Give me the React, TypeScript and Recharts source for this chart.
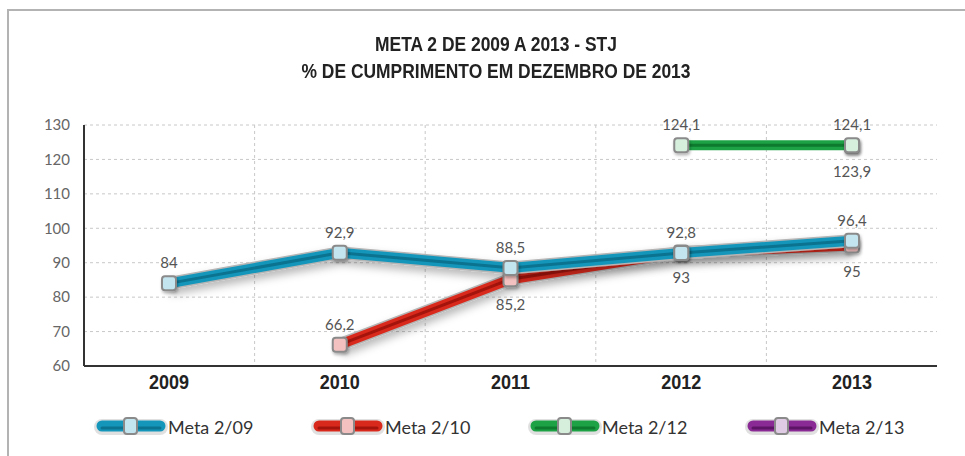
import React from 'react';
import { LineChart, Line, XAxis, YAxis, CartesianGrid, LabelList } from 'recharts';

const years = ['2009', '2010', '2011', '2012', '2013'];
const meta209: (number | null)[] = [84, 92.9, 88.5, 92.8, 96.4];
const meta210: (number | null)[] = [null, 66.2, 85.2, 93, 95];
const meta212: (number | null)[] = [null, null, null, 124.1, 124.1];
const meta213: (number | null)[] = [null, null, null, null, 123.9];
const yTicks = [60, 70, 80, 90, 100, 110, 120, 130];
const seriesNames = ['Meta 2/09', 'Meta 2/10', 'Meta 2/12', 'Meta 2/13'];
const titleLines = ['META 2 DE 2009 A 2013 - STJ', '% DE CUMPRIMENTO EM DEZEMBRO DE 2013'];

const data = years.map((y, i) => ({
  year: y,
  m209: meta209[i],
  m210: meta210[i],
  m212: meta212[i],
  m213: meta213[i],
}));

type Style = { key: string; name: string; color: string; dark: string; fill: string; below: (i: number) => boolean };

const styles: Style[] = [
  { key: 'm210', name: seriesNames[1], color: '#d8291c', dark: '#a3140c', fill: '#f3c2c0', below: (i) => i !== 1 },
  { key: 'm213', name: seriesNames[3], color: '#8a2a94', dark: '#5e1466', fill: '#e0cbe4', below: () => true },
  { key: 'm209', name: seriesNames[0], color: '#1496bb', dark: '#0b7390', fill: '#c3e5ef', below: () => false },
  { key: 'm212', name: seriesNames[2], color: '#1ea246', dark: '#0d7a2e', fill: '#d6eedc', below: () => false },
];
const legendOrder = [2, 0, 3, 1];

const NARROW = "'Liberation Sans', Arial, sans-serif";
const LIGHT = "Lato, 'Open Sans', sans-serif";

const fmt = (v: number) => String(v).replace('.', ',');

const makeDot = (fill: string) => (p: any) => {
  if (p.value == null || p.cy == null || isNaN(p.cy)) return <g key={`d-${p.index}`} />;
  return (
    <rect
      key={`d-${p.index}`}
      x={p.cx - 7}
      y={p.cy - 7}
      width={14}
      height={14}
      rx={3}
      ry={3}
      fill={fill}
      stroke="#8a8a8a"
      strokeWidth={2}
      filter="url(#dotShadow)"
    />
  );
};

const makeLabel = (below: (i: number) => boolean) => (p: any) => {
  const { x, y, value, index } = p;
  if (value == null || y == null || isNaN(y)) return null;
  const dy = below(index) ? 25 : -21;
  return (
    <text
      key={`l-${index}`}
      x={x}
      y={y + dy}
      textAnchor="middle"
      dominantBaseline="central"
      fontFamily={LIGHT}
      fontSize={15}
      fill="#555"
    >
      {fmt(value)}
    </text>
  );
};

const XTick = (p: any) => {
  const { x, y, payload } = p;
  return (
    <g transform={`translate(${x},${y})`}>
      <text
        transform="scale(0.9,1)"
        x={0}
        y={0}
        dy="0.75em"
        textAnchor="middle"
        fontFamily={NARROW}
        fontWeight="bold"
        fontSize={20}
        fill="#222"
      >
        {payload.value}
      </text>
    </g>
  );
};

function LegendIcon({ s }: { s: Style }) {
  return (
    <svg width={70} height={24} style={{ overflow: 'visible' }}>
      <line x1={6} y1={12} x2={64} y2={12} stroke="#000" strokeOpacity={0.12} strokeWidth={16} strokeLinecap="round" />
      <line x1={6} y1={11} x2={64} y2={11} stroke={s.color} strokeWidth={11} strokeLinecap="round" />
      <line x1={6} y1={13} x2={64} y2={13} stroke={s.dark} strokeWidth={3} strokeLinecap="round" />
      <rect x={28} y={3} width={13} height={16} rx={3} fill={s.fill} stroke="#8a8a8a" strokeWidth={2} />
    </svg>
  );
}

export default function App() {
  return (
    <div style={{ position: 'absolute', left: 0, top: 0, width: 965, height: 456, background: '#fff', overflow: 'hidden' }}>
      <div
        style={{
          position: 'absolute',
          left: 7,
          top: 9,
          width: 980,
          height: 470,
          borderTop: '2px solid #b3b3b3',
          borderLeft: '2px solid #b3b3b3',
        }}
      />
      <div
        style={{
          position: 'absolute',
          left: 0,
          width: 992,
          top: 30,
          textAlign: 'center',
          fontFamily: NARROW,
          fontWeight: 'bold',
          fontSize: 21,
          lineHeight: '27px',
          color: '#222',
          transform: 'scaleX(0.83)',
          transformOrigin: '496px 0',
        }}
      >
        {titleLines.map((t) => (
          <div key={t}>{t}</div>
        ))}
      </div>
      <div style={{ position: 'absolute', left: 0, top: 0 }}>
        <LineChart width={965} height={456} data={data} margin={{ top: 125, right: 28, left: 24, bottom: 60 }}>
          <defs>
            <filter id="lineShadow" x="-10%" y="-50%" width="120%" height="200%">
              <feDropShadow dx="1" dy="5" stdDeviation="4" floodColor="#000" floodOpacity="0.28" />
            </filter>
            <filter id="dotShadow" x="-50%" y="-50%" width="200%" height="200%">
              <feDropShadow dx="1" dy="2" stdDeviation="1.5" floodColor="#000" floodOpacity="0.3" />
            </filter>
          </defs>
          <CartesianGrid
            stroke="#c8c8c8"
            strokeDasharray="3 3"
            verticalCoordinatesGenerator={({ offset }: any) =>
              years.slice(1).map((_, i) => offset.left + (offset.width * (i + 1)) / years.length)
            }
          />
          <XAxis
            dataKey="year"
            padding={{ left: 85, right: 85 }}
            axisLine={{ stroke: '#333', strokeWidth: 2 }}
            tickLine={false}
            tickSize={0}
            tickMargin={8}
            height={30}
            interval={0}
            tick={<XTick />}
          />
          <YAxis
            domain={[60, 130]}
            ticks={yTicks}
            width={60}
            axisLine={{ stroke: '#333', strokeWidth: 2 }}
            tickLine={false}
            tickSize={0}
            tickMargin={14}
            interval={0}
            tick={{ fill: '#666', fontSize: 15, fontFamily: LIGHT }}
          />
          {styles.flatMap((s) => [
            <Line
              key={`${s.key}-halo`}
              dataKey={s.key}
              stroke="#b5b5b5"
              strokeWidth={13}
              dot={false}
              activeDot={false}
              isAnimationActive={false}
              filter="url(#lineShadow)"
              legendType="none"
            />,
            <Line
              key={`${s.key}-main`}
              dataKey={s.key}
              stroke={s.color}
              strokeWidth={10}
              dot={false}
              activeDot={false}
              isAnimationActive={false}
              legendType="none"
            />,
            <Line
              key={`${s.key}-core`}
              dataKey={s.key}
              name={s.name}
              stroke={s.dark}
              strokeWidth={3}
              dot={makeDot(s.fill)}
              activeDot={false}
              isAnimationActive={false}
            >
              <LabelList dataKey={s.key} content={makeLabel(s.below)} />
            </Line>,
          ])}
        </LineChart>
      </div>
      <div style={{ position: 'absolute', left: 96, top: 415, display: 'flex' }}>
        {legendOrder.map((idx) => {
          const s = styles[idx];
          return (
            <div key={s.key} style={{ width: 217, display: 'flex', alignItems: 'center' }}>
              <LegendIcon s={s} />
              <span style={{ marginLeft: 2, fontFamily: LIGHT, fontSize: 18, color: '#333' }}>{s.name}</span>
            </div>
          );
        })}
      </div>
    </div>
  );
}
